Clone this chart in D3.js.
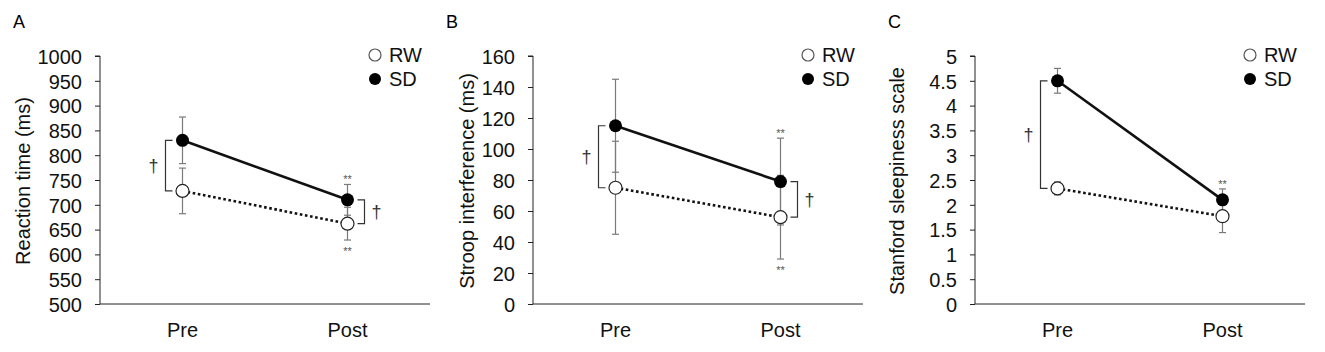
<!DOCTYPE html>
<html>
<head>
<meta charset="utf-8">
<script src="https://cdn.jsdelivr.net/npm/d3@7"></script>
<style>
  body { margin: 0; background: #fff; }
  svg { font-family: "Liberation Sans", Arial, sans-serif; }
</style>
</head>
<body>
<svg id="chart" width="1325" height="352"></svg>
<script>
const phases = ["Pre", "Post"];

// A: reaction time
const rtRW = [728, 662];
const rtRWErr = [46, 33];
const rtSD = [830, 710];
const rtSDErr = [47, 31];
const rtTicks = [500, 550, 600, 650, 700, 750, 800, 850, 900, 950, 1000];

// B: stroop interference
const stRW = [75, 56];
const stRWErr = [30, 27];
const stSD = [115, 79];
const stSDErr = [30, 28];
const stTicks = [0, 20, 40, 60, 80, 100, 120, 140, 160];

// C: stanford sleepiness scale
const ssRW = [2.33, 1.77];
const ssRWErr = [0.13, 0.33];
const ssSD = [4.5, 2.1];
const ssSDErr = [0.25, 0.22];
const ssTicks = [0, 0.5, 1, 1.5, 2, 2.5, 3, 3.5, 4, 4.5, 5];

const panelLetters = ["A", "B", "C"];
const yTitles = ["Reaction time (ms)", "Stroop interference (ms)", "Stanford sleepiness scale"];
const legendLabels = ["RW", "SD"];

// significance marks: which phase, and where
const starsAbove = [["Post"], ["Post"], ["Post"]];   // above SD
const starsBelow = [["Post"], ["Post"], []];         // below RW
const daggers = [["Pre", "Post"], ["Pre", "Post"], ["Pre"]];

const panels = [
  { rw: rtRW, rwErr: rtRWErr, sd: rtSD, sdErr: rtSDErr, ticks: rtTicks, x0: 100, titleX: 23 },
  { rw: stRW, rwErr: stRWErr, sd: stSD, sdErr: stSDErr, ticks: stTicks, x0: 533, titleX: 467 },
  { rw: ssRW, rwErr: ssRWErr, sd: ssSD, sdErr: ssSDErr, ticks: ssTicks, x0: 975, titleX: 897 }
];

const svg = d3.select("#chart");
const plotTop = 56, plotBottom = 304, plotW = 330;

panels.forEach((p, i) => {
  const g = svg.append("g");
  const x = d3.scalePoint().domain(phases).range([p.x0, p.x0 + plotW]).padding(0.5);
  const y = d3.scaleLinear().domain([p.ticks[0], p.ticks[p.ticks.length - 1]]).range([plotBottom, plotTop]);

  // panel letter
  g.append("text")
    .attr("x", p.x0 - 87)
    .attr("y", 28)
    .style("font-size", "18px")
    .text(panelLetters[i]);

  // y axis
  const yAxis = g.append("g")
    .attr("transform", `translate(${p.x0},0)`)
    .call(d3.axisLeft(y).tickValues(p.ticks).tickSize(5).tickPadding(13).tickFormat(d => String(d)));
  yAxis.select(".domain").attr("stroke", "#222").attr("d", `M-5,${plotTop}H0V${plotBottom}`);
  yAxis.selectAll(".tick line").attr("stroke", "#222");
  yAxis.selectAll(".tick text").style("font-size", "20px").attr("fill", "#111").attr("dy", "0.36em");

  // x axis
  g.append("line")
    .attr("x1", p.x0).attr("x2", p.x0 + plotW)
    .attr("y1", plotBottom).attr("y2", plotBottom)
    .attr("stroke", "#222");
  g.selectAll(".xlab")
    .data(phases)
    .enter()
    .append("text")
    .attr("x", d => x(d))
    .attr("y", 337)
    .attr("text-anchor", "middle")
    .style("font-size", "20px")
    .attr("fill", "#111")
    .text(d => d);

  // y title
  g.append("text")
    .attr("transform", `translate(${p.titleX},181) rotate(-90)`)
    .attr("text-anchor", "middle")
    .attr("dy", "0.36em")
    .style("font-size", "20px")
    .attr("fill", "#111")
    .text(yTitles[i]);

  // error bars
  const series = [
    { vals: p.rw, err: p.rwErr, key: "RW" },
    { vals: p.sd, err: p.sdErr, key: "SD" }
  ];
  series.forEach(s => {
    phases.forEach((ph, j) => {
      const cx = x(ph);
      const hi = y(s.vals[j] + s.err[j]), lo = y(s.vals[j] - s.err[j]);
      g.append("line").attr("x1", cx).attr("x2", cx).attr("y1", hi).attr("y2", lo)
        .attr("stroke", "#7a7a7a").attr("stroke-width", 1.2);
      [hi, lo].forEach(yy => {
        g.append("line").attr("x1", cx - 3.5).attr("x2", cx + 3.5).attr("y1", yy).attr("y2", yy)
          .attr("stroke", "#7a7a7a").attr("stroke-width", 1.2);
      });
    });
  });

  // lines
  const line = d3.line().x((d, j) => x(phases[j])).y(d => y(d));
  g.append("path").datum(p.rw).attr("d", line)
    .attr("fill", "none").attr("stroke", "#111").attr("stroke-width", 2.6)
    .attr("stroke-dasharray", "2.6,2.6");
  g.append("path").datum(p.sd).attr("d", line)
    .attr("fill", "none").attr("stroke", "#111").attr("stroke-width", 2.6);

  // markers
  g.selectAll(".rw").data(p.rw).enter().append("circle")
    .attr("cx", (d, j) => x(phases[j])).attr("cy", d => y(d)).attr("r", 6.5)
    .attr("fill", "#fff").attr("stroke", "#222").attr("stroke-width", 1.2);
  g.selectAll(".sd").data(p.sd).enter().append("circle")
    .attr("cx", (d, j) => x(phases[j])).attr("cy", d => y(d)).attr("r", 6.5)
    .attr("fill", "#000");

  // brackets + daggers
  daggers[i].forEach(ph => {
    const j = phases.indexOf(ph);
    const cx = x(ph);
    const yTop = y(p.sd[j]), yBot = y(p.rw[j]);
    const side = ph === "Pre" ? -1 : 1;
    const xv = cx + side * 17, xs = cx + side * 10;
    g.append("path")
      .attr("d", `M${xs},${yTop}H${xv}V${yBot}H${xs}`)
      .attr("fill", "none").attr("stroke", "#333").attr("stroke-width", 1.2);
    g.append("text")
      .attr("x", cx + side * 29)
      .attr("y", (yTop + yBot) / 2)
      .attr("dy", "0.36em")
      .attr("text-anchor", "middle")
      .style("font-size", "18px")
      .attr("fill", "#333")
      .text("†");
  });

  // stars
  starsAbove[i].forEach(ph => {
    const j = phases.indexOf(ph);
    g.append("text")
      .attr("x", x(ph)).attr("y", y(p.sd[j] + p.sdErr[j]) - 1)
      .attr("text-anchor", "middle").style("font-size", "11px").attr("fill", "#555")
      .text("**");
  });
  starsBelow[i].forEach(ph => {
    const j = phases.indexOf(ph);
    g.append("text")
      .attr("x", x(ph)).attr("y", y(p.rw[j] - p.rwErr[j]) + 15)
      .attr("text-anchor", "middle").style("font-size", "11px").attr("fill", "#555")
      .text("**");
  });

  // legend
  const lx = p.x0 + 275;
  legendLabels.forEach((lab, k) => {
    const ly = 55 + k * 24;
    g.append("circle").attr("cx", lx).attr("cy", ly).attr("r", 6)
      .attr("fill", lab === "RW" ? "#fff" : "#000")
      .attr("stroke", lab === "RW" ? "#555" : "none").attr("stroke-width", 1.2);
    g.append("text").attr("x", lx + 14).attr("y", ly).attr("dy", "0.36em")
      .style("font-size", "20px").attr("fill", "#111").text(lab);
  });
});
</script>
</body>
</html>
